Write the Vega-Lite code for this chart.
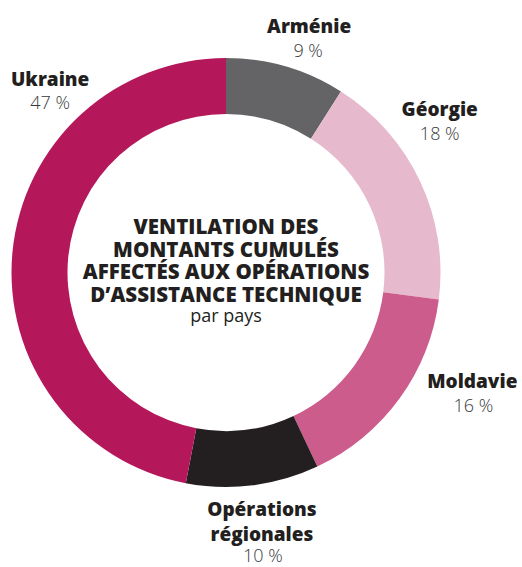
{
  "$schema": "https://vega.github.io/schema/vega-lite/v6.json",
  "width": 452,
  "height": 545,
  "autosize": "none",
  "padding": {"left": 0, "top": 0, "right": 70, "bottom": 22},
  "background": "white",
  "config": {"view": {"stroke": null}, "text": {"font": "Open Sans"}},
  "data": {"values": [
    {"pays": "Arménie", "part": 9, "ordre": 1},
    {"pays": "Géorgie", "part": 18, "ordre": 2},
    {"pays": "Moldavie", "part": 16, "ordre": 3},
    {"pays": "Opérations régionales", "part": 10, "ordre": 4},
    {"pays": "Ukraine", "part": 47, "ordre": 5}
  ]},
  "layer": [
    {
      "mark": {"type": "arc", "outerRadius": 214.5, "innerRadius": 158.5},
      "encoding": {
        "theta": {"field": "part", "type": "quantitative", "stack": true},
        "order": {"field": "ordre", "type": "quantitative"},
        "color": {
          "field": "pays", "type": "nominal", "legend": null,
          "scale": {
            "domain": ["Arménie", "Géorgie", "Moldavie", "Opérations régionales", "Ukraine"],
            "range": ["#646466", "#e7b9cc", "#cc5c8c", "#231f20", "#b4185a"]
          }
        }
      }
    },
    {
      "mark": {
        "type": "text", "radius": 255, "align": "center", "baseline": "middle",
        "fontSize": 19, "fontWeight": 800, "color": "#231f20",
        "lineHeight": 25,
        "lineBreak": {"expr": "datum.pays === 'Opérations régionales' ? ' ' : '\\n'"},
        "dx": {"expr": "datum.pays === 'Arménie' ? 12 : datum.pays === 'Géorgie' ? -17 : datum.pays === 'Moldavie' ? 40 : datum.pays === 'Ukraine' ? 78 : 4"},
        "dy": {"expr": "datum.pays === 'Arménie' ? -1 : datum.pays === 'Géorgie' ? -54 : datum.pays === 'Moldavie' ? -40 : datum.pays === 'Ukraine' ? -168.5 : -15.5"}
      },
      "encoding": {
        "theta": {"field": "part", "type": "quantitative", "stack": true},
        "order": {"field": "ordre", "type": "quantitative"},
        "detail": {"field": "pays", "type": "nominal"},
        "text": {"field": "pays", "type": "nominal"}
      }
    },
    {
      "mark": {
        "type": "text", "radius": 255, "align": "center", "baseline": "middle",
        "fontSize": 18, "fontWeight": 300, "color": "#3a3a3c",
        "text": {"expr": "datum.part + ' %'"},
        "dx": {"expr": "datum.pays === 'Arménie' ? 11 : datum.pays === 'Géorgie' ? -17 : datum.pays === 'Moldavie' ? 41 : datum.pays === 'Ukraine' ? 78 : 5"},
        "dy": {"expr": "datum.pays === 'Arménie' ? 24 : datum.pays === 'Géorgie' ? -29 : datum.pays === 'Moldavie' ? -15 : datum.pays === 'Ukraine' ? -144.5 : 31.5"}
      },
      "encoding": {
        "theta": {"field": "part", "type": "quantitative", "stack": true},
        "order": {"field": "ordre", "type": "quantitative"},
        "detail": {"field": "pays", "type": "nominal"}
      }
    },
    {
      "data": {"values": [{"titre": ["VENTILATION DES", "MONTANTS CUMULÉS", "AFFECTÉS AUX OPÉRATIONS", "D’ASSISTANCE TECHNIQUE"]}]},
      "mark": {
        "type": "text", "align": "center", "baseline": "middle",
        "fontSize": 20.5, "fontWeight": 800, "color": "#231f20",
        "lineHeight": 22.6, "dy": -44.5
      },
      "encoding": {"text": {"field": "titre"}}
    },
    {
      "data": {"values": [{"sous": "par pays"}]},
      "mark": {
        "type": "text", "align": "center", "baseline": "middle",
        "fontSize": 18, "color": "#231f20", "dy": 44.5
      },
      "encoding": {"text": {"field": "sous"}}
    }
  ]
}
